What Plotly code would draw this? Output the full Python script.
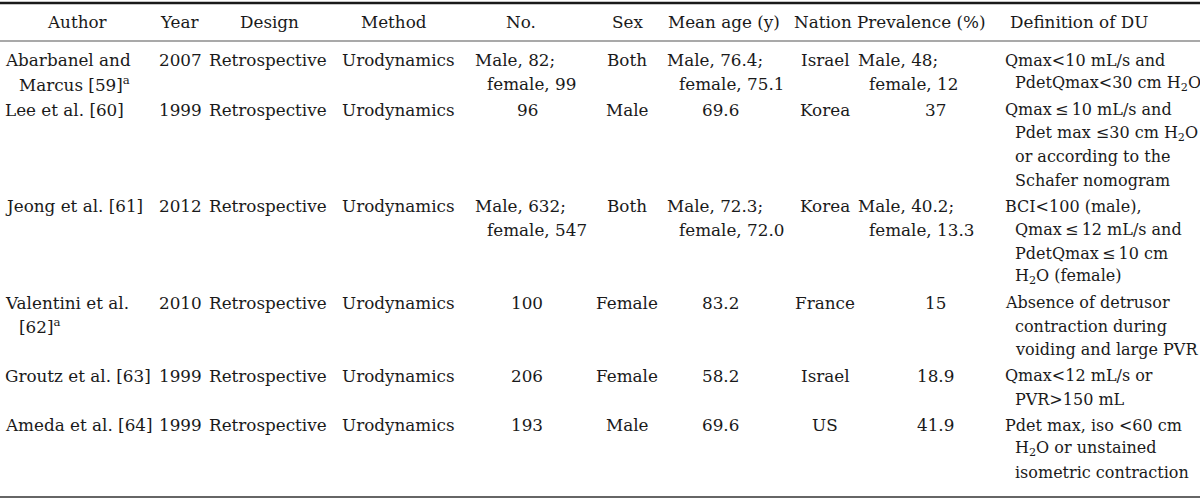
import plotly.graph_objects as go

# ---------------- data ----------------
headers = ["Author", "Year", "Design", "Method", "No.", "Sex", "Mean age (y)",
           "Nation", "Prevalence (%)", "Definition of DU"]

authors = [["Abarbanel and", "Marcus [59]<sup>a</sup>"],
           ["Lee et al. [60]"],
           ["Jeong et al. [61]"],
           ["Valentini et al.", "[62]<sup>a</sup>"],
           ["Groutz et al. [63]"],
           ["Ameda et al. [64]"]]
years = ["2007", "1999", "2012", "2010", "1999", "1999"]
designs = ["Retrospective"] * 6
methods = ["Urodynamics"] * 6
numbers = [["Male, 82;", "female, 99"], ["96"], ["Male, 632;", "female, 547"],
           ["100"], ["206"], ["193"]]
sexes = ["Both", "Male", "Both", "Female", "Female", "Male"]
mean_ages = [["Male, 76.4;", "female, 75.1"], ["69.6"], ["Male, 72.3;", "female, 72.0"],
             ["83.2"], ["58.2"], ["69.6"]]
nations = ["Israel", "Korea", "Korea", "France", "Israel", "US"]
prevalences = [["Male, 48;", "female, 12"], ["37"], ["Male, 40.2;", "female, 13.3"],
               ["15"], ["18.9"], ["41.9"]]
definitions = [
    ["Qmax&lt;10 mL/s and", "PdetQmax&lt;30 cm H<sub>2</sub>O"],
    ["Qmax\u2009\u2264\u200910 mL/s and", "Pdet max \u226430 cm H<sub>2</sub>O",
     "or according to the", "Schafer nomogram"],
    ["BCI&lt;100 (male),", "Qmax\u2009\u2264\u200912 mL/s and",
     "PdetQmax\u2009\u2264\u200910 cm", "H<sub>2</sub>O (female)"],
    ["Absence of detrusor", "contraction during", "voiding and large PVR"],
    ["Qmax&lt;12 mL/s or", "PVR&gt;150 mL"],
    ["Pdet max, iso &lt;60 cm", "H<sub>2</sub>O or unstained", "isometric contraction"],
]

# ---------------- layout parameters ----------------
W, H = 1200, 501
FONT = "DejaVu Serif"
FS = 16.8
COLOR = "#1a1a1a"
LINE_H = 23.5
ROW_GAP = 26.0
FIRST_Y = 60.0
HEADER_Y = 22.0

cols = [
    dict(data=authors, mode="left", left=3, indent=17, hx=77),
    dict(data=[[v] for v in years], mode="center", cx=180, hx=180),
    dict(data=[[v] for v in designs], mode="center", cx=268, hx=269),
    dict(data=[[v] for v in methods], mode="center", cx=398, hx=394),
    dict(data=numbers, mode="mixed", cx=527, left=473, indent=485, hx=521),
    dict(data=[[v] for v in sexes], mode="center", cx=627, hx=627),
    dict(data=mean_ages, mode="mixed", cx=720, left=665, indent=677, hx=724),
    dict(data=[[v] for v in nations], mode="center", cx=825, hx=823),
    dict(data=prevalences, mode="mixed", cx=935, left=856, indent=867, hx=921),
    dict(data=definitions, mode="left", left=1003, indent=1013, hx=1079, fs=16),
]

n_rows = len(authors)
row_lines = [max(len(c["data"][r]) for c in cols) for r in range(n_rows)]
row_y = []
y = FIRST_Y
for r in range(n_rows):
    row_y.append(y)
    y += (row_lines[r] - 1) * LINE_H + ROW_GAP

annotations = []
def add(text, x, yy, anchor, fs=FS):
    annotations.append(dict(text=text, x=x, y=yy, xref="x", yref="y",
                            xanchor=anchor, yanchor="middle", showarrow=False,
                            font=dict(family=FONT, size=fs, color=COLOR)))

for c, h in zip(cols, headers):
    add(h, c["hx"], HEADER_Y, "center")

for c in cols:
    fs = c.get("fs", FS)
    for r in range(n_rows):
        lines = c["data"][r]
        for j, t in enumerate(lines):
            yy = row_y[r] + j * LINE_H
            if c["mode"] == "center" or (c["mode"] == "mixed" and len(lines) == 1):
                add(t, c["cx"], yy, "center", fs)
            else:
                add(t, c["left"] if j == 0 else c["indent"], yy, "left", fs)

shapes = [
    dict(type="line", x0=0, x1=W, y0=3, y1=3, xref="x", yref="y",
         line=dict(color="#1a1a1a", width=2.5)),
    dict(type="line", x0=0, x1=W, y0=41, y1=41, xref="x", yref="y",
         line=dict(color="#555555", width=1.2)),
    dict(type="line", x0=0, x1=W, y0=497, y1=497, xref="x", yref="y",
         line=dict(color="#666666", width=2)),
]

fig = go.Figure()
fig.update_layout(
    width=W, height=H, margin=dict(l=0, r=0, t=0, b=0),
    paper_bgcolor="white", plot_bgcolor="white",
    xaxis=dict(range=[0, W], visible=False, fixedrange=True),
    yaxis=dict(range=[H, 0], visible=False, fixedrange=True),
    annotations=annotations, shapes=shapes, showlegend=False,
)
fig.write_html("out.html", config={"displayModeBar": False},
               post_script="document.body.style.margin='0';document.body.style.overflow='hidden';")
